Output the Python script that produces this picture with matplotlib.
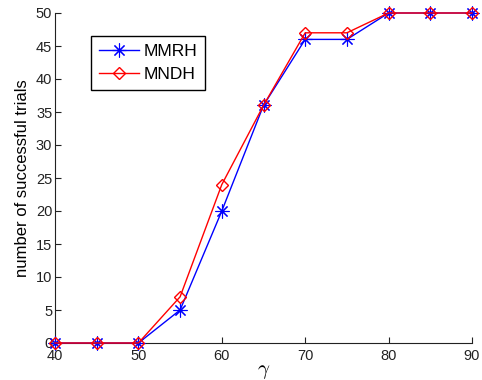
import matplotlib
matplotlib.use("Agg")
import matplotlib.pyplot as plt

gamma = [40, 45, 50, 55, 60, 65, 70, 75, 80, 85, 90]
mmrh = [0, 0, 0, 5, 20, 36, 46, 46, 50, 50, 50]
mndh = [0, 0, 0, 7, 24, 36, 47, 47, 50, 50, 50]
xticks = [40, 50, 60, 70, 80, 90]
yticks = [0, 5, 10, 15, 20, 25, 30, 35, 40, 45, 50]

plt.rcParams['font.family'] = ['Liberation Sans', 'DejaVu Sans']
plt.rcParams['mathtext.fontset'] = 'cm'

fig = plt.figure(figsize=(4.82, 3.80), dpi=100)
ax = fig.add_axes([55/482, 1-343/380, 417/482, 330/380])

ax.plot(gamma, mmrh, color='blue', lw=1.0, marker=(8, 2, 0), markersize=10,
        markeredgewidth=0.8, label='MMRH', clip_on=False, zorder=3)
ax.plot(gamma, mndh, color='red', lw=1.0, marker='D', markersize=6.5,
        markerfacecolor='none', markeredgewidth=1.0, label='MNDH',
        clip_on=False, zorder=4)

ax.set_xlim(40, 90)
ax.set_ylim(0, 50)
ax.set_xticks(xticks)
ax.set_yticks(yticks)
ax.tick_params(direction='in', length=4, labelsize=10.5, colors='#222222')
ax.tick_params(axis='x', pad=4.5)
ax.tick_params(axis='y', pad=2)
for s in ['top', 'right']:
    ax.spines[s].set_visible(False)
for s in ['left', 'bottom']:
    ax.spines[s].set_color('#222222')

ax.set_xlabel(r'$\gamma$', fontsize=15, labelpad=-1)
ax.set_ylabel('number of successful trials', fontsize=12, labelpad=4)

leg = ax.legend(loc='upper left', bbox_to_anchor=(0.086, 0.93), fontsize=12.5,
                fancybox=False, framealpha=1, edgecolor='black',
                handlelength=2.3, borderpad=0.45, labelspacing=0.45,
                handletextpad=0.3, borderaxespad=0)
leg.get_frame().set_linewidth(1.0)

fig.savefig('out.png', dpi=100)
